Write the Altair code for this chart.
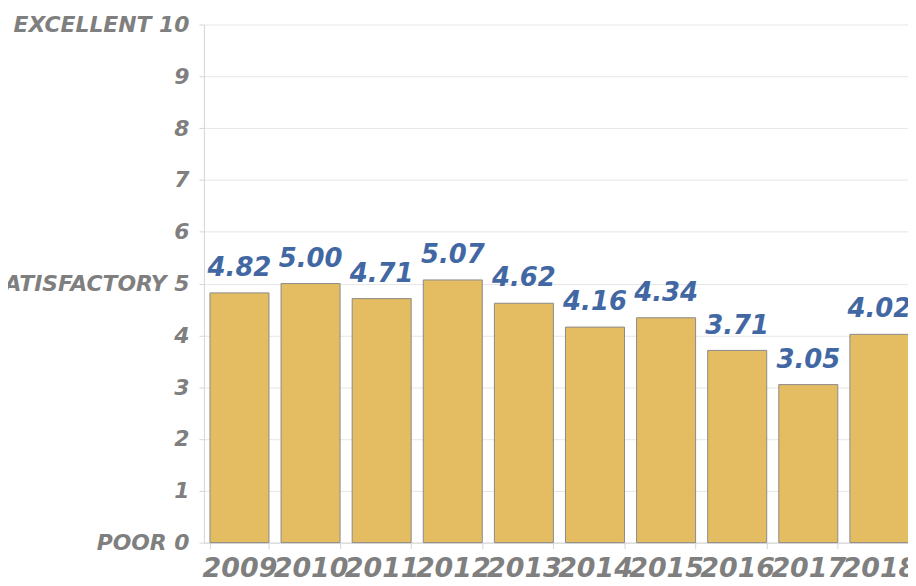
import altair as alt
import pandas as pd

years = ["2009", "2010", "2011", "2012", "2013", "2014", "2015", "2016", "2017", "2018"]
scores = [4.82, 5.00, 4.71, 5.07, 4.62, 4.16, 4.34, 3.71, 3.05, 4.02]
labels = [f"{v:.2f}" for v in scores]

df = pd.DataFrame({"year": years, "score": scores, "label": labels})

FONT = "DejaVu Sans"

x = alt.X(
    "year:N",
    title=None,
    sort=years,
    scale=alt.Scale(range=[0, 715], paddingInner=0.17, paddingOuter=0.085),
    axis=alt.Axis(
        labelAngle=0,
        labelFont=FONT,
        labelFontSize=27,
        labelFontWeight="bold",
        labelFontStyle="italic",
        labelColor="#7f7f7f",
        labelPadding=7,
        labelLimit=0,
        tickBand="extent",
        tickColor="#d6d6d6",
        tickSize=6,
        domainColor="#d6d6d6",
        grid=False,
    ),
)

y = alt.Y(
    "score:Q",
    title=None,
    scale=alt.Scale(domain=[0, 10], nice=False),
    axis=alt.Axis(
        values=list(range(0, 11)),
        labelExpr="datum.value == 10 ? 'EXCELLENT 10' : datum.value == 5 ? 'SATISFACTORY 5' : datum.value == 0 ? 'POOR  0' : datum.label",
        labelFont=FONT,
        labelFontSize=22,
        labelFontWeight="bold",
        labelFontStyle="italic",
        labelColor="#7f7f7f",
        labelPadding=10,
        labelLimit=0,
        tickColor="#d6d6d6",
        tickSize=5,
        domainColor="#d6d6d6",
        gridColor="#e6e6e6",
    ),
)

bars = alt.Chart(df).mark_bar(
    color="#E4BC62", stroke="#8a8a8a", strokeWidth=1
).encode(x=x, y=y)

text = alt.Chart(df).mark_text(
    baseline="bottom",
    dy=-12,
    font=FONT,
    fontSize=26,
    fontWeight="bold",
    fontStyle="italic",
    color="#4268a3",
).encode(x=alt.X("year:N", sort=years), y="score:Q", text="label:N")

chart = (
    alt.layer(bars, text)
    .properties(
        width=708,
        height=521,
        autosize=alt.AutoSizeParams(type="none"),
        padding={"left": 197, "top": 15, "right": 0, "bottom": 42},
    )
    .configure_view(stroke=None)
)

chart.save("out.html", embed_options={"renderer": "svg", "actions": False})
